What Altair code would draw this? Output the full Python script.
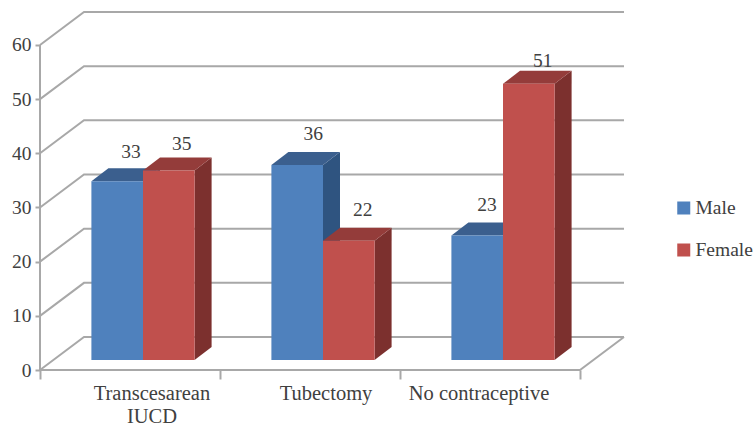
import altair as alt
import pandas as pd

# Chart values
categories = ["Transcesarean\nIUCD", "Tubectomy", "No contraceptive"]
series_names = ["Male", "Female"]
male_values = [33, 36, 23]
female_values = [35, 22, 51]
y_ticks = [0, 10, 20, 30, 40, 50, 60]

# Perspective of the drawing, in scale units (categories along x, percent along y)
WALL_DX, WALL_DY = 44 / 180, 33 / 5.417
BAR_DX0, BAR_DY0 = 13 / 180, 10 / 5.417
BAR_DX1, BAR_DY1 = 30 / 180, 23 / 5.417
BAR_W = 51.6 / 180
X_MAX, Y_MAX = 584 / 180, 359 / 5.417

# Hand placement of the value labels and the category labels
label_nudge_x = {"Male": [0.076, 0.089, 0.054], "Female": [0.072, 0.078, 0.078]}
label_lift = {"Male": [5.4, 5.7, 5.7], "Female": [4.8, 5.7, 4.2]}
category_nudge = [0.122, 0.089, -0.061]

FONT = "Liberation Serif"
FONT_SIZE = 19.5
TEXT = "#404040"
GRID = "#a8a8a8"
FRONT = {"Male": "#4f81bd", "Female": "#c0504d"}
TOP = {"Male": "#3b5f8e", "Female": "#943c3a"}
SIDE = {"Male": "#2f5480", "Female": "#7c302e"}

xs = alt.Scale(domain=[0, X_MAX], nice=False, zero=False)
ys = alt.Scale(domain=[0, Y_MAX], nice=False, zero=False)
X = lambda f="x": alt.X(f"{f}:Q", scale=xs, title=None,
                        axis=alt.Axis(values=[0, 1, 2, 3], labels=False, domain=False, grid=False,
                                      tickSize=9, tickWidth=2, tickColor=GRID, title=None))
Y = lambda f="y": alt.Y(f"{f}:Q", scale=ys, title=None, stack=None,
                        axis=alt.Axis(values=y_ticks, domain=False, grid=False, tickSize=5, tickWidth=2,
                                      tickColor=GRID, labelFont=FONT, labelFontSize=FONT_SIZE,
                                      labelColor=TEXT, labelPadding=4, title=None))

# Wall, floor and axis lines
frame_rows = []
for v in y_ticks:
    for k, (px, py) in enumerate([(0, v), (WALL_DX, v + WALL_DY), (3 + WALL_DX, v + WALL_DY)]):
        frame_rows.append({"id": f"g{v}", "k": k, "x": px, "y": py})
for name, path in {"floor": [(0, 0), (3, 0), (3 + WALL_DX, WALL_DY)], "axis": [(0, 0), (0, 60)]}.items():
    for k, (px, py) in enumerate(path):
        frame_rows.append({"id": name, "k": k, "x": px, "y": py})
frame = alt.Chart(pd.DataFrame(frame_rows)).mark_line(color=GRID, strokeWidth=2, interpolate="linear").encode(
    x=X(), y=Y(), detail="id:N", order="k:Q")


def bar_layers(name, values):
    side_rows, top_rows, front_rows = [], [], []
    offset = -BAR_W if name == "Male" else 0
    for i, v in enumerate(values):
        left = i + 0.5 + BAR_DX0 + offset
        right = left + BAR_W
        side_rows += [
            {"i": i, "x": right, "y": BAR_DY0, "y2": v + BAR_DY0},
            {"i": i, "x": right + BAR_DX1 - BAR_DX0, "y": BAR_DY1, "y2": v + BAR_DY1},
        ]
        top_rows += [
            {"i": i, "y": v + BAR_DY0, "x": left, "x2": right},
            {"i": i, "y": v + BAR_DY1, "x": left + BAR_DX1 - BAR_DX0, "x2": right + BAR_DX1 - BAR_DX0},
        ]
        front_rows.append({"series": name, "x": left, "x2": right, "y": BAR_DY0, "y2": v + BAR_DY0})
    side = alt.Chart(pd.DataFrame(side_rows)).mark_area(orient="vertical", color=SIDE[name]).encode(
        x=X(), y=Y(), y2="y2:Q", detail="i:N")
    top = alt.Chart(pd.DataFrame(top_rows)).mark_area(orient="horizontal", color=TOP[name]).encode(
        y=Y(), x=alt.X("x:Q", scale=xs, title=None, stack=None), x2="x2:Q", detail="i:N")
    front = alt.Chart(pd.DataFrame(front_rows)).mark_rect().encode(
        x=X(), x2="x2:Q", y=Y(), y2="y2:Q",
        color=alt.Color("series:N", scale=alt.Scale(domain=series_names, range=[FRONT[s] for s in series_names]),
                        legend=alt.Legend(orient="none", legendX=634, legendY=189, title=None,
                                          symbolType="square", symbolSize=169, symbolStrokeWidth=0,
                                          labelFont=FONT, labelFontSize=FONT_SIZE, labelColor=TEXT,
                                          rowPadding=22, labelOffset=2, clipHeight=16)))
    return [side, top, front]


# Value labels over each bar
label_rows = []
for name, values in zip(series_names, [male_values, female_values]):
    offset = -BAR_W / 2 if name == "Male" else BAR_W / 2
    for i, v in enumerate(values):
        label_rows.append({"x": i + 0.5 + BAR_DX0 + offset + label_nudge_x[name][i],
                           "y": v + BAR_DY0 + label_lift[name][i], "t": str(v)})
labels = alt.Chart(pd.DataFrame(label_rows)).mark_text(font=FONT, fontSize=FONT_SIZE, color=TEXT).encode(
    x=X(), y=Y(), text="t:N")

# Category labels under the floor
cat_rows = [{"x": i + 0.5 + category_nudge[i], "y": 0, "t": c} for i, c in enumerate(categories)]
cats = alt.Chart(pd.DataFrame(cat_rows)).mark_text(
    font=FONT, fontSize=20.5, color=TEXT, baseline="top", lineBreak="\n", lineHeight=23, dy=14
).encode(x=X(), y=Y(), text="t:N")

layers = [frame] + bar_layers("Male", male_values) + bar_layers("Female", female_values) + [labels, cats]
chart = alt.layer(*layers).properties(
    width=584, height=359,
    padding={"left": 40, "top": 11, "right": 131, "bottom": 55},
    autosize=alt.AutoSizeParams(type="none"),
    background="white",
).configure_view(stroke=None)

chart.save("out.html", embed_options={"renderer": "svg", "actions": False})
